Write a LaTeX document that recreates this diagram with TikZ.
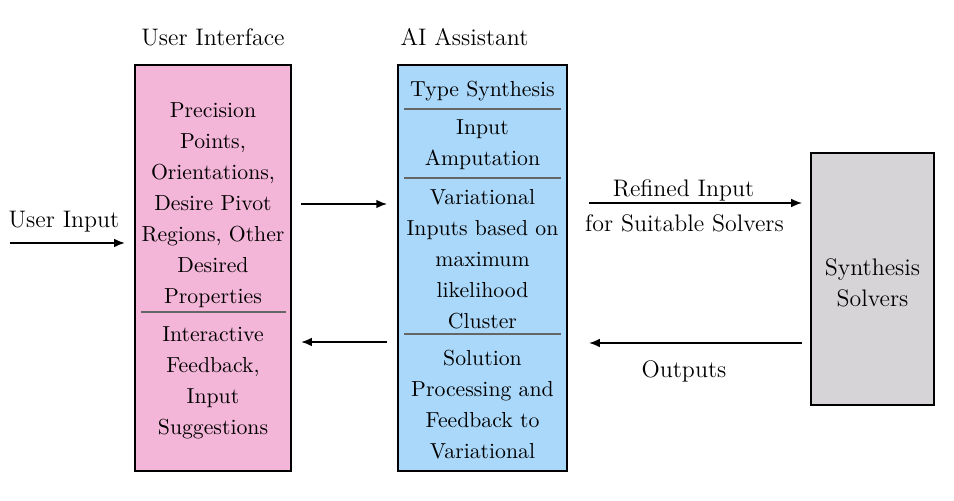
\documentclass[tikz,border=0pt]{standalone}
\usetikzlibrary{arrows.meta,calc}
\definecolor{uipink}{RGB}{244,182,216}
\definecolor{aiblue}{RGB}{170,216,250}
\definecolor{solgray}{RGB}{214,212,214}
\begin{document}
\begin{tikzpicture}[x=0.46pt,y=-0.46pt,
  box/.style={draw=black, line width=0.9pt, inner sep=0pt, outer sep=0pt},
  txt/.style={align=center, font=\fontsize{10}{14.26}\selectfont, inner sep=0pt},
  lbl/.style={align=center, font=\fontsize{11}{14.26}\selectfont, inner sep=0pt},
  divider/.style={draw=black!60, line width=0.6pt},
  arr/.style={-{Latex[length=5pt,width=4pt]}, line width=0.8pt}]
\useasboundingbox (0,0) rectangle (954,501);
% boxes
\node[box, fill=uipink, minimum width={156*0.46pt}, minimum height={406*0.46pt}] (ui) at (213,268) {};
\node[box, fill=aiblue, minimum width={169*0.46pt}, minimum height={406*0.46pt}] (ai) at (482.5,268) {};
\node[box, fill=solgray, minimum width={123*0.46pt}, minimum height={252*0.46pt}] (ss) at (872.5,279) {};
% titles
\node[lbl] (uititle) at (213,37) {User Interface};
\node[lbl] (aititle) at (464.5,37) {AI Assistant};
% pink contents
\node[txt] (ui1) at (213,205) {Precision\\Points,\\Orientations,\\Desire Pivot\\Regions, Other\\Desired\\Properties};
\draw[divider] (141,312) -- (286,312);
\node[txt] (ui2) at (213,383) {Interactive\\Feedback,\\Input\\Suggestions};
% blue contents
\node[txt] (ai1) at (482.5,91) {Type Synthesis};
\draw[divider] (404,109) -- (561,109);
\node[txt] (ai2) at (482.5,144.5) {Input\\Amputation};
\draw[divider] (404,178) -- (561,178);
\node[txt] (ai3) at (482.5,259) {Variational\\Inputs based on\\maximum\\likelihood\\Cluster};
\draw[divider] (404,334) -- (561,334);
\node[txt] (ai4) at (482.5,405) {Solution\\Processing and\\Feedback to\\Variational};
% gray contents
\node[lbl] (ss1) at (872.5,283) {Synthesis\\Solvers};
% arrows
\coordinate (uin) at (10,243);
\coordinate (yA) at (0,204);
\coordinate (yB) at (0,342);
\coordinate (yC) at (0,203);
\coordinate (yD) at (0,343);
\draw[arr, shorten >=4.6pt] (uin) -- (uin -| ui.west);
\node[lbl] (lin) at (64,222) {User Input};
\draw[arr, shorten <=4.6pt, shorten >=5pt] (ui.east |- yA) -- (ai.west |- yA);
\draw[arr, shorten <=5pt, shorten >=4.6pt] (ai.west |- yB) -- (ui.east |- yB);
\draw[arr, shorten <=10.1pt, shorten >=4.1pt] (ai.east |- yC) -- (ss.west |- yC);
\node[lbl] (lref1) at (683.5,190) {Refined Input};
\node[lbl] (lref2) at (684.5,223) {for Suitable Solvers};
\draw[arr, shorten <=4.1pt, shorten >=10.1pt] (ss.west |- yD) -- (ai.east |- yD);
\node[lbl] (lout) at (684,371) {Outputs};
\end{tikzpicture}
\end{document}
